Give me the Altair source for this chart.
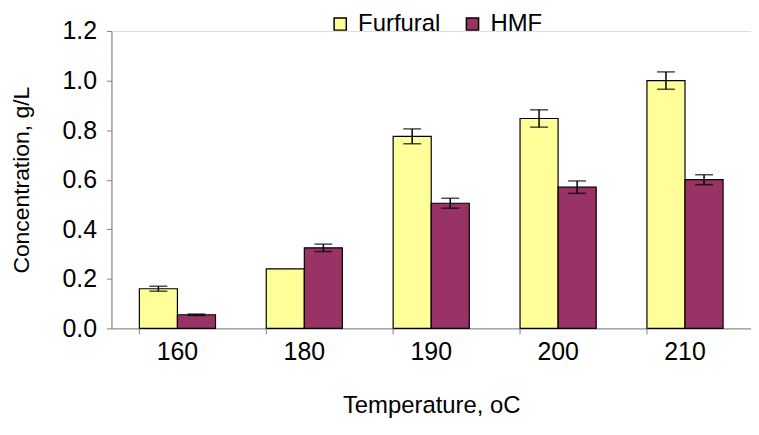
import altair as alt
import pandas as pd

temps = ["160", "180", "190", "200", "210"]
series = ["Furfural", "HMF"]
furfural = [0.16, 0.24, 0.775, 0.847, 1.0]
furfural_err = [0.01, 0.0, 0.03, 0.035, 0.035]
hmf = [0.055, 0.325, 0.505, 0.57, 0.6]
hmf_err = [0.003, 0.015, 0.02, 0.025, 0.02]
colors = ["#FFFF99", "#993366"]

rows = []
for t, v, e in zip(temps, furfural, furfural_err):
    rows.append({"temp": t, "series": "Furfural", "value": v, "lo": v - e, "hi": v + e, "err": e})
for t, v, e in zip(temps, hmf, hmf_err):
    rows.append({"temp": t, "series": "HMF", "value": v, "lo": v - e, "hi": v + e, "err": e})
df = pd.DataFrame(rows)
df_err = df[df["err"] > 0]
df_ticks = pd.DataFrame({"temp": temps})

FONT = "Liberation Sans"

xscale = alt.Scale(domain=temps, paddingInner=0.4, paddingOuter=0.22)
xoff = alt.XOffset("series:N", scale=alt.Scale(domain=series, paddingInner=0, paddingOuter=0))
yscale = alt.Scale(domain=[0, 1.2])

bars = alt.Chart(df).mark_bar(stroke="black", strokeWidth=1.2).encode(
    x=alt.X("temp:N", scale=xscale, sort=temps,
            axis=alt.Axis(title="Temperature, oC", labelAngle=0, ticks=False, tickSize=0,
                          labelPadding=11, labelFontSize=25, titleFontSize=24,
                          titlePadding=30, domainColor="#808080", labelColor="black",
                          titleColor="black", labelFont=FONT, titleFont=FONT,
                          titleFontWeight="normal")),
    xOffset=xoff,
    y=alt.Y("value:Q", scale=yscale,
            axis=alt.Axis(title="Concentration, g/L", values=[0, 0.2, 0.4, 0.6, 0.8, 1.0, 1.2],
                          format=".1f", grid=False, tickSize=5, tickColor="#808080",
                          domainColor="#808080", labelFontSize=25, titleFontSize=23,
                          labelPadding=10, titlePadding=29, labelColor="black",
                          titleColor="black", labelFont=FONT, titleFont=FONT,
                          titleFontWeight="normal")),
    color=alt.Color("series:N", scale=alt.Scale(domain=series, range=colors),
                    legend=alt.Legend(title=None, orient="none", legendX=218, legendY=-19,
                                      direction="horizontal", symbolType="square",
                                      symbolSize=150, symbolStrokeColor="black",
                                      symbolStrokeWidth=1.5, labelFontSize=24,
                                      labelFont=FONT, labelColor="black",
                                      columnPadding=20, labelOffset=6)),
)

err_rule = alt.Chart(df_err).mark_rule(color="black", strokeWidth=1.5).encode(
    x=alt.X("temp:N", scale=xscale, sort=temps),
    xOffset=xoff,
    y=alt.Y("lo:Q", scale=yscale),
    y2="hi:Q",
)
cap_hi = alt.Chart(df_err).mark_tick(color="black", size=18, thickness=1.5, orient="horizontal").encode(
    x=alt.X("temp:N", scale=xscale, sort=temps),
    xOffset=xoff,
    y=alt.Y("hi:Q", scale=yscale),
)
cap_lo = alt.Chart(df_err).mark_tick(color="black", size=18, thickness=1.5, orient="horizontal").encode(
    x=alt.X("temp:N", scale=xscale, sort=temps),
    xOffset=xoff,
    y=alt.Y("lo:Q", scale=yscale),
)
xticks = alt.Chart(df_ticks).mark_rule(color="#808080", strokeWidth=1).encode(
    x=alt.X("temp:N", scale=xscale, sort=temps, bandPosition=0),
    y=alt.value(299),
    y2=alt.value(305),
)

chart = alt.layer(bars, err_rule, cap_hi, cap_lo, xticks).properties(
    width=643, height=299,
    autosize=alt.AutoSizeParams(type="none"),
    padding={"left": 104, "top": 22, "right": 0, "bottom": 95},
).configure_view(stroke=None).configure(font=FONT)

chart.save("out.html", embed_options={"renderer": "svg", "actions": False})
